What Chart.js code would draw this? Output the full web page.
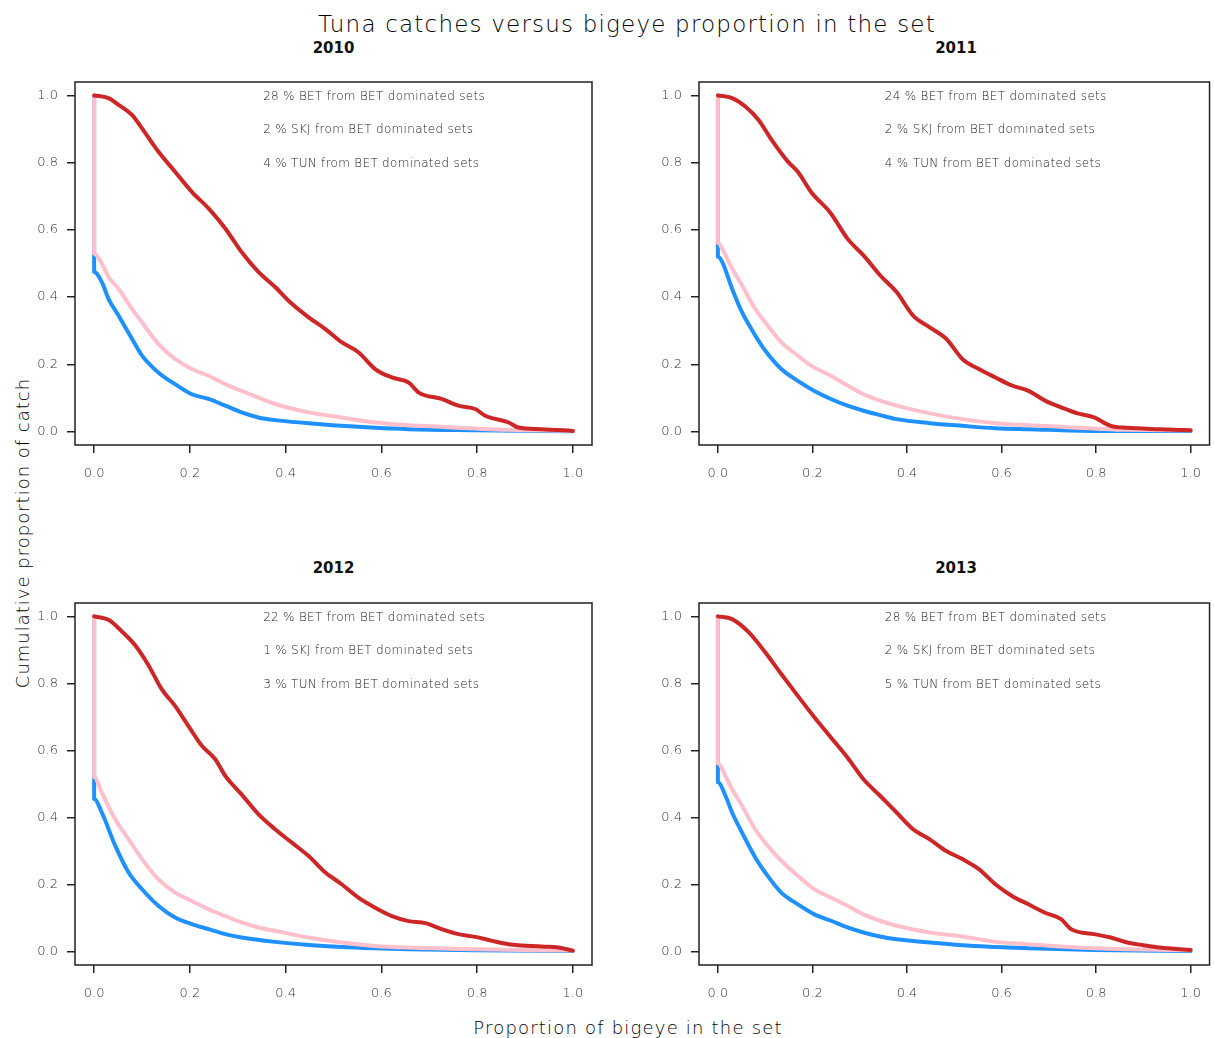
<!DOCTYPE html>
<html>
<head>
<meta charset="utf-8">
<script src="https://cdn.jsdelivr.net/npm/chart.js@4/dist/chart.umd.min.js"></script>
<style>
  body { margin: 0; background: #fff; width: 1214px; height: 1038px; position: relative; overflow: hidden;
         font-family: "DejaVu Sans", sans-serif; color: #000; }
  canvas { position: absolute; }
  .lbl { position: absolute; transform: translate(-50%, -50%); white-space: nowrap; }
</style>
</head>
<body>
<div class="lbl" style="left:627px; top:24px; font-size:23px; font-weight:200; letter-spacing:1.2px;">Tuna catches versus bigeye proportion in the set</div>
<div class="lbl" style="left:628px; top:1027px; font-size:18px; font-weight:200; letter-spacing:1.2px;">Proportion of bigeye in the set</div>
<div class="lbl" style="left:22px; top:533px; font-size:18px; font-weight:200; letter-spacing:1px; transform: translate(-50%, -50%) rotate(-90deg);">Cumulative proportion of catch</div>

<canvas id="p2010"></canvas>
<canvas id="p2011"></canvas>
<canvas id="p2012"></canvas>
<canvas id="p2013"></canvas>

<script>
// années et textes
const years = ['2010', '2011', '2012', '2013'];
const betPct = [28, 24, 22, 28];
const skjPct = [2, 2, 1, 2];
const tunPct = [4, 4, 3, 5];
const tickVals = [0, 0.2, 0.4, 0.6, 0.8, 1.0];

// courbes : [proportion BET, proportion cumulée]
const bet2010 = [[0,1],[0.03,0.992],[0.051,0.972],[0.079,0.942],[0.1,0.902],[0.134,0.833],[0.169,0.773],[0.204,0.713],[0.239,0.664],[0.274,0.604],[0.308,0.534],[0.343,0.475],[0.378,0.43],[0.413,0.38],[0.448,0.34],[0.483,0.305],[0.517,0.266],[0.552,0.236],[0.587,0.186],[0.622,0.161],[0.657,0.146],[0.678,0.116],[0.726,0.097],[0.761,0.077],[0.796,0.067],[0.817,0.047],[0.866,0.027],[0.886,0.012],[0.935,0.007],[1,0.002]];
const skj2010 = [[0,1],[0,0.475],[0.016,0.445],[0.03,0.395],[0.051,0.345],[0.079,0.276],[0.1,0.226],[0.134,0.176],[0.169,0.141],[0.204,0.111],[0.239,0.097],[0.274,0.077],[0.308,0.057],[0.343,0.042],[0.378,0.034],[0.448,0.025],[0.517,0.017],[0.587,0.011],[0.657,0.007],[0.796,0.004],[1,0.001]];
const tun2010 = [[0,1],[0,0.529],[0.016,0.5],[0.03,0.46],[0.051,0.425],[0.079,0.365],[0.1,0.325],[0.134,0.261],[0.169,0.216],[0.204,0.186],[0.239,0.166],[0.274,0.141],[0.308,0.121],[0.343,0.101],[0.378,0.082],[0.448,0.057],[0.517,0.042],[0.587,0.027],[0.657,0.019],[0.726,0.014],[0.796,0.009],[0.866,0.005],[1,0.002]];

const bet2011 = [[0,1],[0.03,0.992],[0.058,0.967],[0.086,0.927],[0.114,0.867],[0.148,0.803],[0.169,0.773],[0.197,0.713],[0.239,0.649],[0.274,0.574],[0.308,0.524],[0.343,0.465],[0.378,0.415],[0.413,0.345],[0.448,0.31],[0.483,0.276],[0.517,0.216],[0.552,0.186],[0.587,0.161],[0.622,0.137],[0.657,0.121],[0.692,0.092],[0.726,0.072],[0.761,0.054],[0.796,0.042],[0.831,0.017],[0.866,0.011],[0.935,0.007],[1,0.004]];
const skj2011 = [[0,1],[0,0.52],[0.009,0.505],[0.03,0.425],[0.051,0.355],[0.079,0.286],[0.1,0.241],[0.134,0.186],[0.169,0.151],[0.204,0.121],[0.239,0.097],[0.274,0.077],[0.308,0.062],[0.343,0.049],[0.378,0.037],[0.448,0.025],[0.517,0.017],[0.587,0.01],[0.657,0.007],[0.796,0.002],[1,0.002]];
const tun2011 = [[0,1],[0,0.562],[0.009,0.544],[0.03,0.485],[0.051,0.435],[0.079,0.365],[0.1,0.325],[0.134,0.266],[0.169,0.226],[0.197,0.196],[0.239,0.166],[0.274,0.137],[0.308,0.111],[0.343,0.092],[0.378,0.077],[0.448,0.054],[0.517,0.037],[0.587,0.025],[0.657,0.019],[0.726,0.014],[0.796,0.009],[0.866,0.005],[1,0.004]];

const bet2012 = [[0,1],[0.03,0.99],[0.058,0.955],[0.086,0.913],[0.114,0.853],[0.141,0.783],[0.169,0.733],[0.197,0.673],[0.225,0.614],[0.253,0.574],[0.274,0.524],[0.308,0.469],[0.343,0.41],[0.378,0.365],[0.413,0.325],[0.448,0.285],[0.483,0.236],[0.517,0.201],[0.552,0.161],[0.587,0.131],[0.622,0.106],[0.657,0.091],[0.692,0.085],[0.726,0.067],[0.761,0.052],[0.796,0.044],[0.831,0.032],[0.866,0.022],[0.935,0.015],[0.97,0.012],[1,0.003]];
const skj2012 = [[0,1],[0,0.455],[0.016,0.415],[0.044,0.316],[0.072,0.236],[0.1,0.186],[0.134,0.137],[0.169,0.102],[0.204,0.082],[0.239,0.067],[0.274,0.052],[0.308,0.042],[0.378,0.029],[0.448,0.02],[0.517,0.014],[0.587,0.01],[0.657,0.007],[0.796,0.004],[1,0.002]];
const tun2012 = [[0,1],[0,0.52],[0.016,0.474],[0.044,0.395],[0.072,0.335],[0.1,0.276],[0.134,0.216],[0.169,0.176],[0.204,0.151],[0.239,0.126],[0.274,0.106],[0.308,0.087],[0.343,0.072],[0.378,0.062],[0.448,0.042],[0.517,0.027],[0.587,0.017],[0.657,0.012],[0.796,0.007],[1,0.003]];

const bet2013 = [[0,1],[0.03,0.992],[0.065,0.953],[0.1,0.893],[0.134,0.828],[0.169,0.763],[0.204,0.699],[0.239,0.639],[0.274,0.579],[0.308,0.514],[0.343,0.465],[0.378,0.415],[0.413,0.365],[0.448,0.335],[0.483,0.3],[0.517,0.276],[0.552,0.246],[0.587,0.201],[0.622,0.166],[0.657,0.141],[0.692,0.116],[0.726,0.097],[0.747,0.067],[0.796,0.052],[0.831,0.042],[0.866,0.027],[0.9,0.019],[0.935,0.012],[1,0.005]];
const skj2013 = [[0,1],[0,0.505],[0.016,0.465],[0.03,0.415],[0.051,0.355],[0.079,0.281],[0.1,0.236],[0.134,0.176],[0.169,0.141],[0.204,0.111],[0.239,0.092],[0.274,0.072],[0.308,0.057],[0.343,0.045],[0.378,0.037],[0.448,0.027],[0.517,0.019],[0.587,0.014],[0.657,0.01],[0.796,0.005],[1,0.002]];
const tun2013 = [[0,1],[0,0.562],[0.016,0.524],[0.03,0.485],[0.051,0.435],[0.079,0.365],[0.1,0.325],[0.134,0.271],[0.169,0.226],[0.204,0.186],[0.239,0.161],[0.274,0.137],[0.308,0.111],[0.343,0.092],[0.378,0.077],[0.448,0.057],[0.517,0.045],[0.587,0.029],[0.657,0.022],[0.726,0.015],[0.796,0.01],[0.866,0.007],[1,0.004]];

const betSeries = [bet2010, bet2011, bet2012, bet2013];
const skjSeries = [skj2010, skj2011, skj2012, skj2013];
const tunSeries = [tun2010, tun2011, tun2012, tun2013];

// position des panneaux dans la page
const panels = [
    { left: 0,   top: 60,  yw: 75, padR: 15, padT: 22 },
    { left: 607, top: 60,  yw: 92, padR: 1,  padT: 22 },
    { left: 0,   top: 580, yw: 75, padR: 15, padT: 23 },
    { left: 607, top: 580, yw: 92, padR: 1,  padT: 23 },
];

const toPts = arr => arr.map(p => ({ x: p[0], y: p[1] }));

// cadre + textes dans le graphique
const boxPlugin = {
    id: 'boxPlugin',
    afterDraw(chart) {
        const ctx = chart.ctx;
        const a = chart.chartArea;
        ctx.save();
        ctx.strokeStyle = '#222';
        ctx.lineWidth = 1.5;
        ctx.strokeRect(a.left, a.top, a.right - a.left, a.bottom - a.top);

        const i = chart.options.plugins.boxPlugin.idx;
        const xs = chart.scales.x, ys = chart.scales.y;
        const lines = [
            betPct[i] + ' % BET from BET dominated sets',
            skjPct[i] + ' % SKJ from BET dominated sets',
            tunPct[i] + ' % TUN from BET dominated sets',
        ];
        ctx.fillStyle = '#222';
        ctx.font = '200 12px "DejaVu Sans"';
        ctx.letterSpacing = '0.3px';
        ctx.textAlign = 'left';
        ctx.textBaseline = 'middle';
        lines.forEach((t, k) => {
            ctx.fillText(t, xs.getPixelForValue(0.353), ys.getPixelForValue(1.0 - k * 0.1) + 1);
        });
        ctx.restore();
    }
};

function creationPanel(i) {
    const p = panels[i];
    const cv = document.getElementById('p' + years[i]);
    cv.style.left = p.left + 'px';
    cv.style.top = p.top + 'px';
    cv.width = 607;
    cv.height = 440;

    // titre du panneau
    const t = document.createElement('div');
    t.className = 'lbl';
    t.textContent = years[i];
    t.style.fontWeight = 'bold';
    t.style.fontSize = '15px';
    t.style.color = '#111';
    t.style.left = (p.left + p.yw + (607 - p.yw - p.padR) / 2) + 'px';
    t.style.top = (p.top - 12) + 'px';
    document.body.appendChild(t);

    const tickFont = { family: '"DejaVu Sans"', size: 13, weight: 200 };

    new Chart(cv, {
        type: 'line',
        data: {
            datasets: [
                { data: toPts(betSeries[i]), borderColor: '#CD2626', borderWidth: 4, order: 0 },
                { data: toPts(tunSeries[i]), borderColor: '#FFC0CB', borderWidth: 4, order: 1 },
                { data: toPts(skjSeries[i]), borderColor: '#1E90FF', borderWidth: 4, order: 2 },
            ]
        },
        options: {
            responsive: false,
            animation: false,
            events: [],
            layout: { padding: { left: 0, right: p.padR, top: p.padT, bottom: 0 } },
            elements: {
                point: { radius: 0 },
                line: { cubicInterpolationMode: 'monotone', borderCapStyle: 'round', borderJoinStyle: 'round' }
            },
            plugins: {
                legend: { display: false },
                tooltip: { enabled: false },
                boxPlugin: { idx: i },
            },
            scales: {
                x: {
                    type: 'linear',
                    min: -0.04,
                    max: 1.04,
                    afterBuildTicks: s => { s.ticks = tickVals.map(v => ({ value: v })); },
                    afterFit: s => { s.height = 55; },
                    border: { display: false },
                    grid: { drawOnChartArea: false, drawTicks: true, tickLength: 8, color: '#222', lineWidth: 1.5 },
                    ticks: { color: '#333', font: tickFont, padding: 13, maxRotation: 0, callback: v => v.toFixed(1) },
                },
                y: {
                    type: 'linear',
                    min: -0.04,
                    max: 1.04,
                    afterBuildTicks: s => { s.ticks = tickVals.map(v => ({ value: v })); },
                    afterFit: s => { s.width = p.yw; },
                    border: { display: false },
                    grid: { drawOnChartArea: false, drawTicks: true, tickLength: 8, color: '#222', lineWidth: 1.5 },
                    ticks: { color: '#333', font: tickFont, padding: 9, callback: v => v.toFixed(1) },
                }
            }
        },
        plugins: [boxPlugin]
    });
}

years.forEach((y, i) => creationPanel(i));
</script>
</body>
</html>
